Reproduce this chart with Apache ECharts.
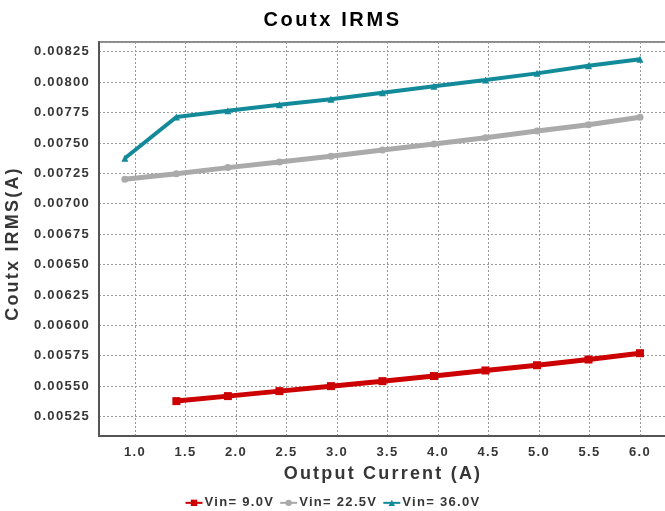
<!DOCTYPE html>
<html>
<head>
<meta charset="utf-8">
<script src="https://cdn.jsdelivr.net/npm/echarts@6/dist/echarts.min.js"></script>
<style>
  html, body { margin: 0; padding: 0; background: #fff; }
  #chart { width: 665px; height: 511px; }
</style>
</head>
<body>
<div id="chart"></div>
<script>
// Output current (A) sample points
const currentWide = [0.9, 1.41, 1.92, 2.43, 2.94, 3.45, 3.96, 4.47, 4.98, 5.49, 6.0];
const currentLow = [1.41, 1.92, 2.43, 2.94, 3.45, 3.96, 4.47, 4.98, 5.49, 6.0];

// Output capacitor RMS current (A) per input voltage
const vin9 = [0.005377, 0.005418, 0.005459, 0.005500, 0.005541, 0.005583, 0.005629, 0.005672, 0.005719, 0.005771];
const vin22 = [0.007201, 0.007247, 0.007297, 0.007343, 0.007390, 0.007442, 0.007491, 0.007543, 0.007598, 0.007650, 0.007711];
const vin36 = [0.007374, 0.007713, 0.007765, 0.007814, 0.007860, 0.007913, 0.007966, 0.008017, 0.008072, 0.008135, 0.008188];

const seriesNames = ['Vin= 9.0V', 'Vin= 22.5V', 'Vin= 36.0V'];
const chartTitle = 'Coutx IRMS';
const xName = 'Output Current (A)';
const yName = 'Coutx IRMS(A)';

// Spaced-out lettering: extra tracking per font size (px)
const TRACKING = { 20: 2.6, 18: 2.2, 13: 1.3 };
(function () {
  const proto = CanvasRenderingContext2D.prototype;
  const desc = Object.getOwnPropertyDescriptor(proto, 'font');
  if (!desc || !('letterSpacing' in proto)) return;
  Object.defineProperty(proto, 'font', {
    configurable: true,
    get() { return desc.get.call(this); },
    set(v) {
      desc.set.call(this, v);
      const m = /(\d+(?:\.\d+)?)px/.exec(v);
      const size = m ? Math.round(parseFloat(m[1])) : 12;
      this.letterSpacing = (TRACKING[size] || 0) + 'px';
    }
  });
})();

const pair = (xs, ys) => xs.map((x, i) => [x, ys[i]]);

const FONT = "'Liberation Sans', Arial, sans-serif";
const TEXT = '#363636';

const chart = echarts.init(document.getElementById('chart'), null, { renderer: 'canvas' });

const Y_STEP = 0.00025;

chart.setOption({
  animation: false,
  backgroundColor: '#ffffff',
  title: {
    text: chartTitle,
    left: 'center',
    top: 9,
    padding: 0,
    textStyle: { fontFamily: FONT, fontWeight: 'bold', fontSize: 20, color: '#000000' }
  },
  legend: {
    data: seriesNames,
    bottom: 1,
    left: 'center',
    padding: 0,
    itemWidth: 17,
    itemHeight: 8,
    itemGap: 5,
    textStyle: { fontFamily: FONT, fontWeight: 'bold', fontSize: 13, color: TEXT, padding: [0, 0, 0, -3] }
  },
  grid: {
    left: 99,
    top: 42,
    right: -2,
    bottom: 75,
    outerBoundsMode: 'none',
    containLabel: false,
    show: true,
    borderColor: '#8a8a8a',
    borderWidth: 2,
    backgroundColor: '#ffffff'
  },
  xAxis: {
    type: 'value',
    min: 0.644,
    max: 6.267,
    minInterval: 0.5,
    maxInterval: 0.5,
    name: xName,
    nameLocation: 'middle',
    nameGap: 25,
    nameTextStyle: { fontFamily: FONT, fontWeight: 'bold', fontSize: 18, color: TEXT },
    axisLine: { lineStyle: { color: '#555555', width: 2 } },
    axisTick: { show: false },
    axisLabel: {
      margin: 9,
      fontFamily: FONT, fontWeight: 'bold', fontSize: 13, color: TEXT,
      showMinLabel: false, showMaxLabel: false,
      formatter: v => (Math.abs(v * 2 - Math.round(v * 2)) > 1e-6 ? '' : v.toFixed(1))
    },
    splitLine: { show: true, lineStyle: { color: '#9a9a9a', width: 1, type: [2, 2] } }
  },
  yAxis: {
    type: 'value',
    min: 0.00509,
    max: 0.00833,
    minInterval: Y_STEP,
    maxInterval: Y_STEP,
    name: yName,
    nameLocation: 'middle',
    nameGap: 72,
    nameTextStyle: { fontFamily: FONT, fontWeight: 'bold', fontSize: 18, color: TEXT, padding: [0, 9, 0, 0] },
    axisLine: { show: true, lineStyle: { color: '#555555', width: 2 } },
    axisTick: { show: false },
    axisLabel: {
      margin: 9,
      fontFamily: FONT, fontWeight: 'bold', fontSize: 13, color: TEXT,
      showMinLabel: false, showMaxLabel: false,
      formatter: v => (Math.abs(v / Y_STEP - Math.round(v / Y_STEP)) > 1e-6 ? '' : v.toFixed(5))
    },
    splitLine: { show: true, lineStyle: { color: '#9a9a9a', width: 1, type: [2, 2] } }
  },
  series: [
    {
      name: seriesNames[0],
      type: 'line',
      data: pair(currentLow, vin9),
      symbol: 'rect',
      symbolSize: 8,
      showAllSymbol: true,
      color: '#cc0000',
      lineStyle: { width: 5, color: '#cc0000' },
      itemStyle: { color: '#cc0000' }
    },
    {
      name: seriesNames[1],
      type: 'line',
      data: pair(currentWide, vin22),
      symbol: 'circle',
      symbolSize: 7,
      showAllSymbol: true,
      color: '#aaaaaa',
      lineStyle: { width: 5, color: '#aaaaaa' },
      itemStyle: { color: '#aaaaaa' }
    },
    {
      name: seriesNames[2],
      type: 'line',
      data: pair(currentWide, vin36),
      symbol: 'triangle',
      symbolSize: 7,
      showAllSymbol: true,
      color: '#138a99',
      lineStyle: { width: 4, color: '#138a99' },
      itemStyle: { color: '#138a99' }
    }
  ]
});
</script>
</body>
</html>
